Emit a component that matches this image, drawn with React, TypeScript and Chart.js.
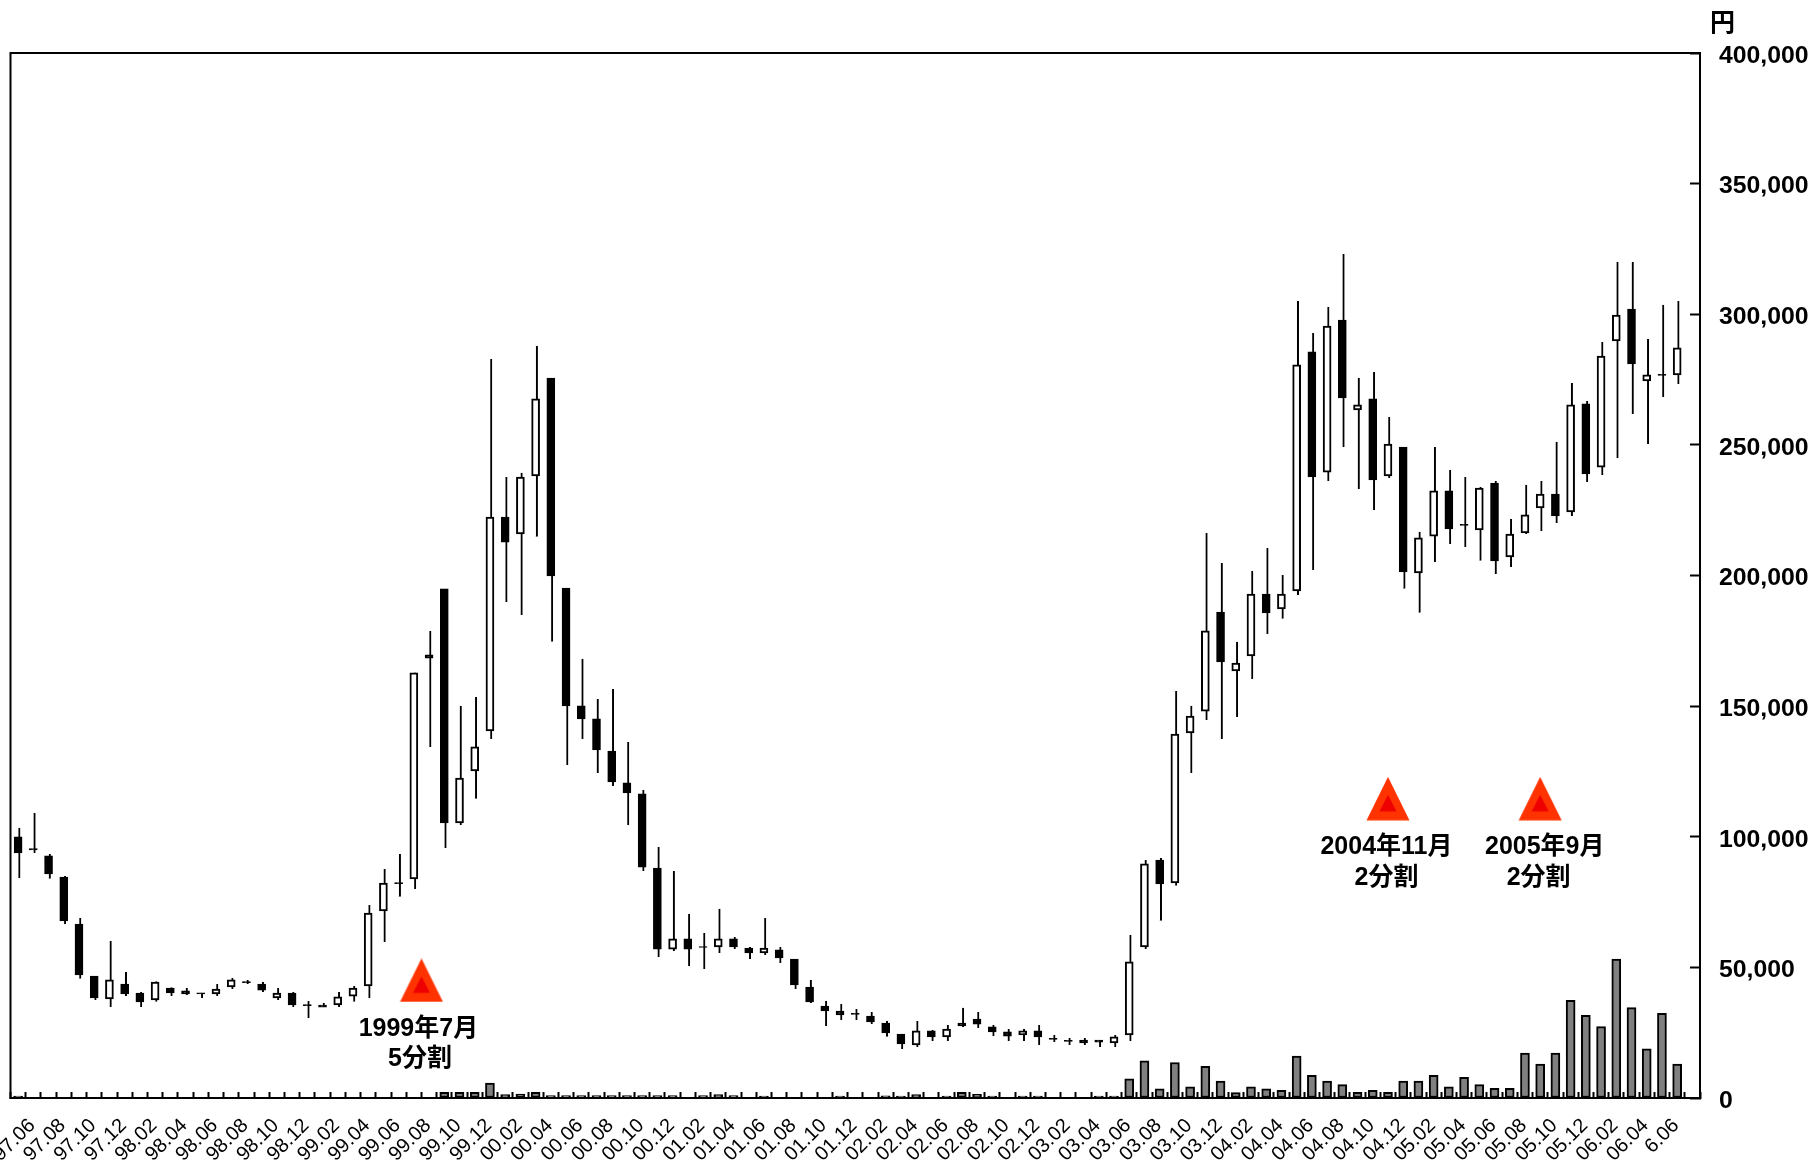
import React, { useEffect, useRef } from "react";
import { Chart, registerables } from "chart.js";

Chart.register(...registerables);

const tickLabels = [
  "97.06","97.08","97.10","97.12",
  "98.02","98.04","98.06","98.08","98.10","98.12",
  "99.02","99.04","99.06","99.08","99.10","99.12",
  "00.02","00.04","00.06","00.08","00.10","00.12",
  "01.02","01.04","01.06","01.08","01.10","01.12",
  "02.02","02.04","02.06","02.08","02.10","02.12",
  "03.02","03.04","03.06","03.08","03.10","03.12",
  "04.02","04.04","04.06","04.08","04.10","04.12",
  "05.02","05.04","05.06","05.08","05.10","05.12",
  "06.02","06.04","6.06",
];

const opens = [
  100000,95500,92700,84600,66600,46700,37900,43600,40200,37500,
  42100,41000,40300,39800,42500,44600,43600,38300,40200,35800,
  35600,35600,39000,42900,71600,82500,83900,169600,194900,105300,
  125200,140500,222400,215900,238100,275600,195200,150100,145100,132800,
  120600,116400,88000,57000,60900,58000,57800,60900,57400,55500,
  56700,53200,42500,35200,33300,32400,31400,28700,24500,20300,
  25700,23400,28700,30200,27200,25300,24100,25700,22800,22100,
  22200,22200,21100,24100,57800,91100,82300,139700,148100,186000,
  163500,169200,192900,187200,194100,285600,239600,297800,263400,267600,
  238100,249200,201000,215100,232400,219600,217400,235400,207100,216300,
  225900,231200,224300,265700,241500,289800,302000,274500,277000,276800,
];
const closes = [
  93800,95000,85800,67800,47100,38300,45200,39800,36800,44400,
  40200,39800,39800,41700,45200,44100,41300,40200,35600,35300,
  34800,38700,42100,70800,82300,82000,162700,168400,105300,122500,
  134400,222400,212800,237700,267600,199800,150100,145100,133200,121000,
  116800,88400,57000,60900,57000,57600,60900,57800,55500,57400,
  53600,43300,36800,33300,31800,32000,29100,24900,20700,25700,
  23400,26400,27600,28300,25300,23700,25700,23400,22400,21700,
  21100,21400,23400,52100,89600,81900,139300,146200,178800,166900,
  166500,192900,185700,192900,280600,237700,295500,268000,265300,236600,
  250300,201400,214400,232400,217800,219200,233500,205600,215900,223200,
  231200,222800,265300,238900,284000,299700,281000,276800,276600,287100,
];
const highs = [
  103400,109100,93400,85000,68900,46700,60100,48200,40600,44700,
  42400,42100,40300,43600,45900,45200,44400,42100,40600,37100,
  36400,40600,42900,73900,87700,93400,162900,178800,194900,150100,
  153500,282900,237700,239300,287900,275600,195200,168100,152700,156600,
  136300,117900,96100,86900,70400,63200,72400,61600,57800,68900,
  57800,53200,45200,37100,36000,34100,32900,29500,24500,29500,
  26000,27900,34500,32900,27900,26400,26400,27900,24100,23000,
  23000,22200,24100,62400,91100,91900,155800,150100,216300,204800,
  174600,201700,210500,200200,305100,292800,302800,323100,275600,277900,
  260700,249200,216700,249200,240400,237700,233900,236200,221600,234700,
  236200,251100,273700,266800,289400,320000,320000,290500,303600,305100,
];
const lows = [
  84200,93800,83900,66600,45600,37500,34800,39000,34800,36800,
  39000,39400,38300,39000,41700,43600,40600,37500,34800,30600,
  34800,34800,36800,38300,59700,77000,80000,134400,95700,104500,
  114500,137400,189900,184900,214800,174600,127500,137400,124400,119400,
  104500,86900,54000,56300,50500,49400,55500,57000,53200,54700,
  51700,41700,36400,27600,29900,29900,28300,23400,18800,19500,
  21800,21800,27200,26800,23700,21800,21800,20300,21400,20300,
  20300,19500,19500,21800,57000,67800,81200,124400,144700,137400,
  145800,160400,177600,183400,192500,202100,236200,249200,233100,225100,
  237300,194900,185700,205200,212100,210900,205600,200600,203300,215900,
  217000,220100,222800,235800,238500,245000,261800,250300,268300,273300,
];
const volumes = [
  700,null,null,null,null,null,null,null,null,null,
  null,null,null,null,null,null,null,null,null,null,
  null,null,null,null,null,null,null,null,2200,2200,
  2200,5700,1300,1500,2200,900,900,900,900,900,
  900,900,900,900,null,900,1300,900,null,700,
  null,null,null,null,700,null,null,800,700,1300,
  null,700,2200,1400,700,null,700,700,null,null,
  null,700,700,7300,14200,3500,13600,4300,12100,6500,
  2100,4300,3500,2900,16000,8700,6500,5100,2200,2900,
  2200,6500,6500,8700,4300,7900,5100,3700,3700,17200,
  13000,17200,37400,31600,27300,53200,34600,18800,32400,13000,
];

const splitMarkerIndex = [26.5, 90, 100];
const splitMarkerValue = [45000, 114500, 114500];

const noteText = ["1999年7月", "5分割", "2004年11月", "2分割", "2005年9月", "2分割"];
const noteIndex = [26.3, 26.4, 89.9, 89.9, 100.3, 99.9];
const noteValue = [23800, 12300, 93500, 81700, 93500, 81700];

const yMax = 400000;
const yStep = 50000;

const FONT_LATIN = '"Liberation Sans", "Noto Sans CJK JP"';
const categories = [...tickLabels.flatMap((l) => [l, ""]), ""];

function makeTriangle(): HTMLCanvasElement {
  const c = document.createElement("canvas");
  c.width = 44;
  c.height = 44;
  const g = c.getContext("2d")!;
  g.fillStyle = "#ff3300";
  g.beginPath();
  g.moveTo(22, 0);
  g.lineTo(43.5, 43.5);
  g.lineTo(0.5, 43.5);
  g.closePath();
  g.fill();
  g.fillStyle = "#ee0000";
  g.beginPath();
  g.moveTo(22, 18);
  g.lineTo(30.5, 34.5);
  g.lineTo(13.5, 34.5);
  g.closePath();
  g.fill();
  return c;
}

const framePlugin = {
  id: "frameAndNotes",
  afterDatasetsDraw(chart: any) {
    const { ctx, chartArea, scales } = chart;
    ctx.save();
    ctx.strokeStyle = "#000";
    ctx.lineWidth = 2;
    ctx.strokeRect(chartArea.left, chartArea.top, chartArea.right - chartArea.left, chartArea.bottom - chartArea.top);
    ctx.fillStyle = "#000";
    ctx.textAlign = "center";
    ctx.textBaseline = "alphabetic";
    ctx.font = `bold 25px ${FONT_LATIN}`;
    noteText.forEach((t, i) => {
      ctx.fillText(t, scales.xa.getPixelForValue(noteIndex[i]), scales.y.getPixelForValue(noteValue[i]));
    });
    ctx.textAlign = "left";
    ctx.fillText("円", 1710, 31);
    ctx.restore();
  },
};

export default function App() {
  const ref = useRef<HTMLCanvasElement>(null);
  useEffect(() => {
    const triangle = makeTriangle();
    const chart = new Chart(ref.current!, {
      type: "bar",
      data: {
        labels: categories,
        datasets: [
          {
            type: "scatter",
            xAxisID: "xa",
            yAxisID: "y",
            order: 0,
            data: splitMarkerIndex.map((x, i) => ({ x, y: splitMarkerValue[i] })),
            pointStyle: triangle as any,
            pointRadius: 22,
            showLine: false,
          },
          {
            label: "body",
            order: 1,
            grouped: false,
            barThickness: 8,
            data: opens.map((o, i) => [o, closes[i]]),
            backgroundColor: opens.map((o, i) => (closes[i] > o ? "#ffffff" : "#000000")),
            borderColor: "#000",
            borderWidth: 2,
            borderSkipped: false,
          },
          {
            label: "wick",
            order: 2,
            grouped: false,
            barThickness: 4,
            data: lows.map((l, i) => [l, highs[i]]),
            backgroundColor: "#ffffff",
            borderColor: "#000",
            borderWidth: { left: 0, right: 2, top: 0, bottom: 0 },
            borderSkipped: false,
          },
          {
            label: "volume",
            order: 3,
            grouped: false,
            barThickness: 9,
            data: volumes,
            backgroundColor: "#808080",
            borderColor: "#000",
            borderWidth: 2,
            borderSkipped: false,
          },
        ] as any,
      },
      options: {
        animation: false,
        responsive: false,
        devicePixelRatio: 1,
        events: [],
        layout: { autoPadding: false, padding: { left: 10.5, top: 53, right: 0, bottom: 0 } },
        plugins: { legend: { display: false }, tooltip: { enabled: false } },
        scales: {
          x: {
            type: "category",
            position: "bottom",
            offset: true,
            grid: {
              offset: true,
              drawOnChartArea: false,
              tickLength: -6,
              tickWidth: 2,
              tickColor: "#000",
            },
            border: { color: "#000", width: 2 },
            ticks: {
              autoSkip: false,
              maxRotation: 45,
              minRotation: 45,
              padding: 22,
              labelOffset: 14,
              color: "#000",
              font: { family: FONT_LATIN, size: 20 },
              callback(this: any, v: any) {
                return this.getLabelForValue(v);
              },
            },
            afterFit(s: any) {
              s.height = 65;
              s.paddingLeft = 0;
              s.paddingRight = 0;
            },
          },
          xa: { type: "linear", display: false, offset: false, min: -0.5, max: 110.5 },
          y: {
            position: "right",
            min: 0,
            max: yMax,
            grid: {
              drawOnChartArea: false,
              tickLength: -10,
              tickWidth: 2,
              tickColor: "#000",
            },
            border: { color: "#000", width: 2 },
            ticks: {
              stepSize: yStep,
              padding: 29,
              labelOffset: 3,
              color: "#000",
              font: { family: FONT_LATIN, size: 24.8, weight: "bold" },
              callback: (v: any) => Number(v).toLocaleString("en-US"),
            },
            afterFit(s: any) {
              s.width = 114;
              s.paddingTop = 0;
              s.paddingBottom = 0;
            },
          },
        },
      } as any,
      plugins: [framePlugin],
    });
    return () => chart.destroy();
  }, []);
  return (
    <div style={{ position: "absolute", left: 0, top: 0, width: 1814, height: 1163, background: "#fff" }}>
      <canvas ref={ref} width={1814} height={1163} style={{ display: "block" }} />
    </div>
  );
}
